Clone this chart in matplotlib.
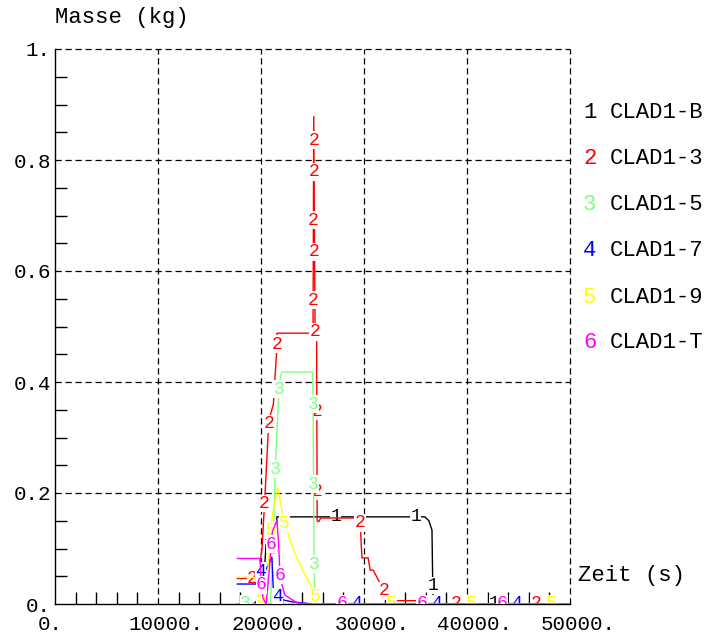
import numpy as np
import matplotlib
matplotlib.use("Agg")
import matplotlib.pyplot as plt
from matplotlib.ticker import MultipleLocator, FixedLocator, FixedFormatter
import matplotlib.transforms as mtransforms

# ---- data: mass of cladding material (kg) versus time (s) ----
names = ["CLAD1-B", "CLAD1-3", "CLAD1-5", "CLAD1-7", "CLAD1-9", "CLAD1-T"]

t_b = [17700, 19300, 19700, 20200, 20500, 20900, 21500, 21550, 35900, 36300, 36600, 36700, 50000]
m_b = [0.0, 0.0, 0.008, 0.02, 0.11, 0.128, 0.14, 0.157, 0.157, 0.150, 0.133, 0.0, 0.0]

t_3 = [17700, 19600, 19900, 20100, 20400, 20700, 20900, 21200, 21500, 21550, 25050, 25120,
       25250, 25400, 25450, 25600, 25800, 29600, 29800, 30400, 30600, 30900, 32300, 32500,
       35100, 35200, 50000]
m_3 = [0.046, 0.046, 0.075, 0.10, 0.20, 0.31, 0.34, 0.36, 0.45, 0.488, 0.488, 0.879,
       0.49, 0.488, 0.15, 0.148, 0.155, 0.155, 0.083, 0.083, 0.061, 0.061, 0.010, 0.006,
       0.006, 0.0, 0.0]

t_5 = [17700, 20900, 21200, 21360, 21750, 21900, 22040, 25000, 25050, 25150, 25250, 50000]
m_5 = [0.0, 0.0, 0.10, 0.24, 0.385, 0.41, 0.418, 0.418, 0.37, 0.07, 0.0, 0.0]

t_7 = [17700, 19500, 19800, 20100, 20400, 20700, 21050, 21250, 21500, 22000, 23000, 24500,
       25000, 50000]
m_7 = [0.036, 0.036, 0.05, 0.07, 0.06, 0.07, 0.085, 0.005, 0.015, 0.008, 0.004, 0.001,
       0.0, 0.0]

t_9 = [17700, 19400, 19700, 20200, 20500, 20800, 21100, 21650, 22000, 22300, 23000, 23600,
       24300, 24800, 25150, 25400, 25800, 50000]
m_9 = [0.048, 0.048, 0.03, 0.0, 0.01, 0.10, 0.16, 0.21, 0.17, 0.145, 0.106, 0.078,
       0.052, 0.035, 0.022, 0.008, 0.0, 0.0]

t_t = [17700, 19900, 20000, 20200, 20500, 20800, 21100, 21550, 21700, 21850, 22100, 22330,
       23500, 25000, 50000]
m_t = [0.082, 0.082, 0.04, 0.01, 0.0, 0.06, 0.13, 0.151, 0.11, 0.052, 0.03, 0.016,
       0.002, 0.0, 0.0]

series = [(t_b, m_b), (t_3, m_3), (t_5, m_5), (t_7, m_7), (t_9, m_9), (t_t, m_t)]
colors = ["#000000", "#ff0000", "#80ff80", "#0000ff", "#ffff00", "#ff00ff"]
label_start = [9, 15, 8, 32, 40, 49]   # arc length (px) to the first curve label
label_step = 80                          # arc length (px) between curve labels

x_ticks = [0, 10000, 20000, 30000, 40000, 50000]
x_ticklabels = ["0.", "10000.", "20000.", "30000.", "40000.", "50000."]
y_ticks = [0, 0.2, 0.4, 0.6, 0.8, 1.0]
y_ticklabels = ["0.", "0.2", "0.4", "0.6", "0.8", "1."]

# ---- figure ----
W, H = 710, 639
fig = plt.figure(figsize=(W / 100, H / 100), dpi=100)
L, R, B, T = 55, 570, 604, 49
ax = fig.add_axes([L / W, 1 - B / H, (R - L) / W, (B - T) / H])
ax.set_xlim(0, 50000)
ax.set_ylim(0, 1.0)

font = "Liberation Mono"
grid_kw = dict(color="black", lw=0.9, dashes=(5, 3))

for v in [10000, 20000, 30000, 40000]:
    ax.axvline(v, zorder=1, **grid_kw)
for v in [0.2, 0.4, 0.6, 0.8]:
    ax.axhline(v, zorder=1, **grid_kw)
ax.axhline(1.0, zorder=1, clip_on=False, **grid_kw)
ax.axvline(50000, zorder=1, clip_on=False, **grid_kw)

for side in ["top", "right"]:
    ax.spines[side].set_visible(False)
for side in ["left", "bottom"]:
    ax.spines[side].set_linewidth(1.0)
    ax.spines[side].set_color("black")

ax.xaxis.set_major_locator(FixedLocator(x_ticks))
ax.xaxis.set_major_formatter(FixedFormatter(x_ticklabels))
ax.xaxis.set_minor_locator(MultipleLocator(2000))
ax.yaxis.set_major_locator(FixedLocator(y_ticks))
ax.yaxis.set_major_formatter(FixedFormatter(y_ticklabels))
ax.yaxis.set_minor_locator(MultipleLocator(0.05))
ax.tick_params(which="both", direction="in", length=8.5, width=1.0, color="black")
ax.tick_params(axis="x", which="major", length=0, pad=8, labelsize=15)
ax.tick_params(axis="y", which="major", length=0, pad=3, labelsize=15)
for lab in ax.get_xticklabels() + ax.get_yticklabels():
    lab.set_fontfamily(font)
for v, lab in zip(x_ticks, ax.get_xticklabels()):
    dx = -5 if v == 0 else 8
    shift = mtransforms.ScaledTranslation(dx / 100, 0, fig.dpi_scale_trans)
    lab.set_transform(lab.get_transform() + shift)

# ---- curves with numbered labels spaced along the arc ----
for i, ((t, m), c) in enumerate(zip(series, colors)):
    t = np.asarray(t, float)
    m = np.asarray(m, float)
    ax.plot(t, m, color=c, lw=1.0, zorder=3 + i, solid_joinstyle="miter")
    pts = ax.transData.transform(np.column_stack([t, m]))
    seg = np.hypot(np.diff(pts[:, 0]), np.diff(pts[:, 1]))
    cum = np.concatenate([[0], np.cumsum(seg)])
    s = label_start[i]
    inv = ax.transData.inverted()
    while s <= cum[-1]:
        k = min(np.searchsorted(cum, s, side="right") - 1, len(seg) - 1)
        f = (s - cum[k]) / seg[k] if seg[k] > 0 else 0
        p = pts[k] + f * (pts[k + 1] - pts[k])
        xd, yd = inv.transform(p)
        ax.text(xd, yd, str(i + 1), color=c, fontsize=13, family=font,
                ha="center", va="center", zorder=3.5 + i, clip_on=True,
                bbox=dict(facecolor="white", edgecolor="none", pad=0.3))
        s += label_step

# ---- titles and legend ----
fig.text(L / W, 1 - 18 / H, "Masse (kg)", family=font, fontsize=16,
         ha="left", va="center")
fig.text(578 / W, 1 - 576 / H, "Zeit (s)", family=font, fontsize=16,
         ha="left", va="center")
for i, (name, c) in enumerate(zip(names, colors)):
    yy = 1 - (113 + 46 * i) / H
    fig.text(583 / W, yy, str(i + 1), color=c, family=font, fontsize=16,
             ha="left", va="center")
    fig.text(610 / W, yy, name, color="black", family=font, fontsize=16,
             ha="left", va="center")

fig.savefig("out.png", dpi=100)
